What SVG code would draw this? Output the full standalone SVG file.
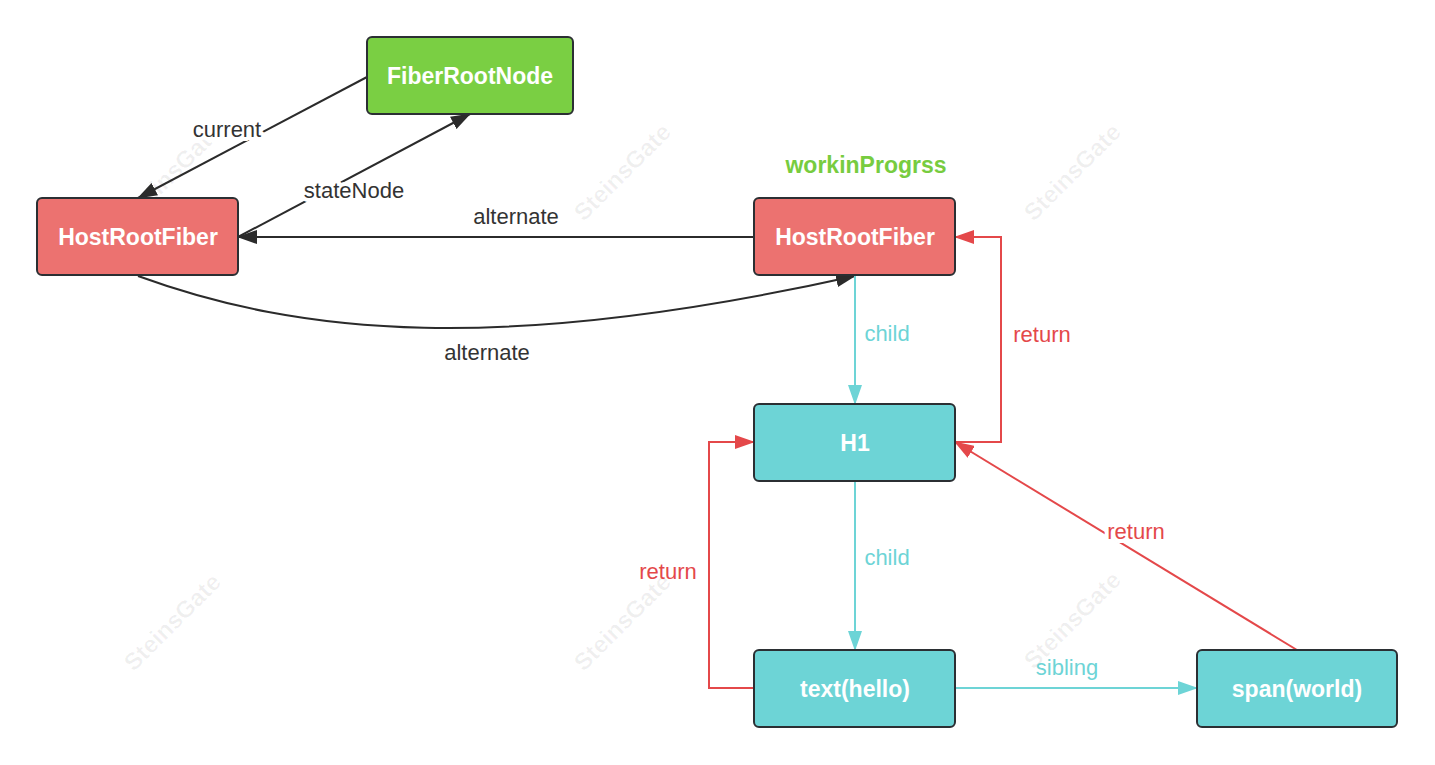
<svg xmlns="http://www.w3.org/2000/svg" width="1435" height="765" viewBox="0 0 1435 765">
<style>
.node rect{stroke:#2b2f33;stroke-width:2}
.node text{font-family:"Liberation Sans",Arial,sans-serif;font-size:23px;font-weight:bold;fill:#fff;text-anchor:middle;dominant-baseline:central}
.lbl{font-family:"Liberation Sans",Arial,sans-serif;font-size:22px;text-anchor:middle;dominant-baseline:central}
.brk{paint-order:stroke;stroke:#fff;stroke-width:8px;stroke-linejoin:round}
.wm{font-family:"Liberation Sans",Arial,sans-serif;font-size:24px;font-weight:bold;fill:#000;fill-opacity:0.06;text-anchor:middle;dominant-baseline:central}
.dark{stroke:#2b2b2b;stroke-width:2;fill:none}
.red{stroke:#e4484a;stroke-width:2;fill:none}
.teal{stroke:#6dd4d6;stroke-width:2;fill:none}
</style>
<defs>
<marker id="ad" viewBox="0 0 20 14" refX="19" refY="7" markerWidth="20" markerHeight="14" markerUnits="userSpaceOnUse" orient="auto"><path d="M0,0L20,7L0,14z" fill="#2b2b2b"/></marker>
<marker id="ar" viewBox="0 0 20 14" refX="19" refY="7" markerWidth="20" markerHeight="14" markerUnits="userSpaceOnUse" orient="auto"><path d="M0,0L20,7L0,14z" fill="#e4484a"/></marker>
<marker id="at" viewBox="0 0 20 14" refX="19" refY="7" markerWidth="20" markerHeight="14" markerUnits="userSpaceOnUse" orient="auto"><path d="M0,0L20,7L0,14z" fill="#6dd4d6"/></marker>
</defs>
<rect width="1435" height="765" fill="#fff"/>
<g id="watermarks">
<text class="wm" transform="translate(172,172) rotate(-45)">SteinsGate</text>
<text class="wm" transform="translate(622,172) rotate(-45)">SteinsGate</text>
<text class="wm" transform="translate(1072,172) rotate(-45)">SteinsGate</text>
<text class="wm" transform="translate(172,622) rotate(-45)">SteinsGate</text>
<text class="wm" transform="translate(622,622) rotate(-45)">SteinsGate</text>
<text class="wm" transform="translate(1072,620) rotate(-45)">SteinsGate</text>
</g>
<g id="connectors">
<path class="dark" d="M367,77L138,198" marker-end="url(#ad)"/>
<path class="dark" d="M238,237L470,114" marker-end="url(#ad)"/>
<path class="dark" d="M754,237L238,237" marker-end="url(#ad)"/>
<path class="dark" d="M138,276C300,335 500,355 855,276" marker-end="url(#ad)"/>
<path class="teal" d="M855,276L855,404" marker-end="url(#at)"/>
<path class="red" d="M955,442L1001,442L1001,237L955,237" marker-end="url(#ar)"/>
<path class="teal" d="M855,481L855,650" marker-end="url(#at)"/>
<path class="red" d="M754,688L709,688L709,442L754,442" marker-end="url(#ar)"/>
<path class="teal" d="M955,688L1197,688" marker-end="url(#at)"/>
<path class="red" d="M1297,650L955,442" marker-end="url(#ar)"/>
<text class="lbl brk" x="227" y="129" fill="#333">current</text>
<text class="lbl brk" x="354" y="190" fill="#333">stateNode</text>
<text class="lbl" x="516" y="216" fill="#333">alternate</text>
<text class="lbl" x="487" y="352" fill="#333">alternate</text>
<text class="lbl" x="887" y="333" fill="#6dd4d6">child</text>
<text class="lbl" x="1042" y="334" fill="#e4484a">return</text>
<text class="lbl" x="887" y="557" fill="#6dd4d6">child</text>
<text class="lbl" x="668" y="571" fill="#e4484a">return</text>
<text class="lbl" x="1067" y="667" fill="#6dd4d6">sibling</text>
<text class="lbl brk" x="1136" y="531" fill="#e4484a">return</text>
</g>
<text class="lbl" x="866" y="165" fill="#77cc3f" style="font-weight:bold;font-size:23px">workinProgrss</text>
<g id="fiberRootNode" class="node"><rect x="367" y="37" width="206" height="77" rx="5" fill="#7acf43"/><text x="470" y="76">FiberRootNode</text></g>
<g id="hostRootFiberCurrent" class="node"><rect x="37" y="198" width="201" height="77" rx="5" fill="#ec7270"/><text x="138" y="237">HostRootFiber</text></g>
<g id="hostRootFiberWip" class="node"><rect x="754" y="198" width="201" height="77" rx="5" fill="#ec7270"/><text x="855" y="237">HostRootFiber</text></g>
<g id="h1" class="node"><rect x="754" y="404" width="201" height="77" rx="5" fill="#6dd4d6"/><text x="855" y="443">H1</text></g>
<g id="textHello" class="node"><rect x="754" y="650" width="201" height="77" rx="5" fill="#6dd4d6"/><text x="855" y="689">text(hello)</text></g>
<g id="spanWorld" class="node"><rect x="1197" y="650" width="200" height="77" rx="5" fill="#6dd4d6"/><text x="1297" y="689">span(world)</text></g>
</svg>
